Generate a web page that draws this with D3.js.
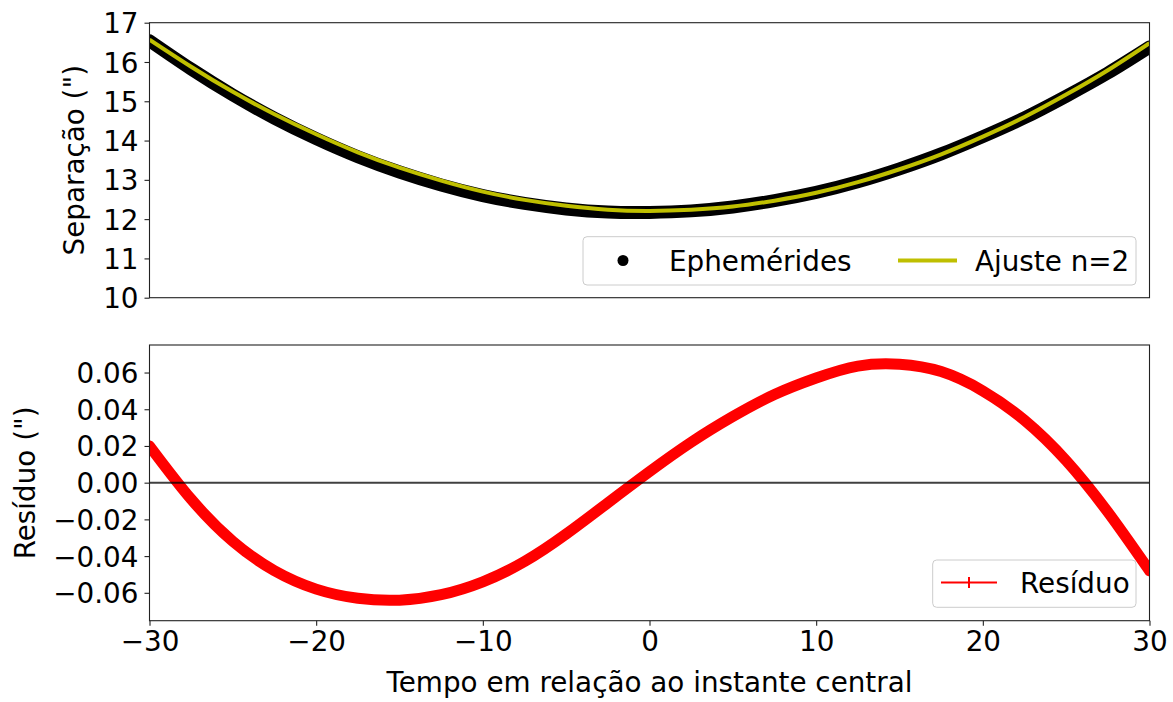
<!DOCTYPE html>
<html>
<head>
<meta charset="utf-8">
<script src="https://cdn.jsdelivr.net/npm/d3@7"></script>
<style>
  html, body { margin: 0; padding: 0; background: #fff; }
  svg { display: block; }
  text { font-family: "DejaVu Sans", sans-serif; fill: #000; }
</style>
</head>
<body>
<svg id="chart" width="1173" height="702"></svg>
<script>
// Time relative to the central instant (x for every series)
const tempo = [-30, -27.5, -25, -22.5, -20, -17.5, -15, -12.5, -10, -7.5, -5, -2.5, 0,
               2.5, 5, 7.5, 10, 12.5, 15, 17.5, 20, 22.5, 25, 27.5, 30];

// Ephemeris separation (")
const efemerides = [16.54, 15.82, 15.16, 14.57, 14.05, 13.59, 13.20, 12.87, 12.60, 12.40, 12.26, 12.18, 12.17,
                    12.21, 12.31, 12.47, 12.68, 12.95, 13.28, 13.66, 14.10, 14.58, 15.13, 15.72, 16.38];

// Degree-2 polynomial fit (")
const ajuste = [16.57, 15.88, 15.24, 14.67, 14.16, 13.70, 13.31, 12.98, 12.70, 12.49, 12.34, 12.24, 12.21,
                12.24, 12.32, 12.47, 12.67, 12.94, 13.27, 13.65, 14.10, 14.60, 15.17, 15.79, 16.48];

// Residual of the fit (")
const residuo = [0.020, -0.009, -0.032, -0.048, -0.058, -0.063, -0.064, -0.061, -0.054, -0.043, -0.028, -0.011, 0.006,
                 0.022, 0.036, 0.048, 0.057, 0.0635, 0.0645, 0.0605, 0.050, 0.034, 0.012, -0.016, -0.048];

// Tick labels
const xTicks = [-30, -20, -10, 0, 10, 20, 30];
const sepTicks = [10, 11, 12, 13, 14, 15, 16, 17];
const resTicks = [-0.06, -0.04, -0.02, 0.00, 0.02, 0.04, 0.06];

const FS = 27.8;
const svg = d3.select("#chart");

const left = 149.5, right = 1149.5;
const top1 = 22.7, bot1 = 297.7;
const top2 = 345, bot2 = 620.7;

const x = d3.scaleLinear().domain([-30, 30]).range([left, right]);
const ySep = d3.scaleLinear().domain([10, 17]).range([bot1, top1]);
const yRes = d3.scaleLinear().domain([-0.0752, 0.0750]).range([bot2, top2]);

const defs = svg.append("defs");
defs.append("clipPath").attr("id", "clipTop")
  .append("rect").attr("x", left).attr("y", top1).attr("width", right - left).attr("height", bot1 - top1);
defs.append("clipPath").attr("id", "clipBot")
  .append("rect").attr("x", left).attr("y", top2).attr("width", right - left).attr("height", bot2 - top2);

const pts = (ys) => tempo.map((t, i) => [t, ys[i]]);

// ---------- Top panel: separation ----------
const lineSep = d3.line().x(d => x(d[0])).y(d => ySep(d[1])).curve(d3.curveNatural);

const gTop = svg.append("g").attr("clip-path", "url(#clipTop)");
gTop.append("path")
  .attr("d", lineSep(pts(efemerides)))
  .attr("fill", "none").attr("stroke", "#000").attr("stroke-width", 13)
  .attr("stroke-linecap", "round");
gTop.append("path")
  .attr("d", lineSep(pts(ajuste)))
  .attr("fill", "none").attr("stroke", "#bfbf00").attr("stroke-width", 4);

// y axis (top)
const axTop = svg.append("g").attr("transform", `translate(${left},0)`)
  .call(d3.axisLeft(ySep).tickValues(sepTicks).tickFormat(d3.format("d")).tickSize(5).tickPadding(6));
axTop.select(".domain").remove();
axTop.selectAll(".tick line").attr("stroke", "#222").attr("stroke-width", 1.1);
axTop.selectAll(".tick text").attr("font-size", FS).attr("dy", "0.36em").attr("fill", "#000")
  .style("font-family", "'DejaVu Sans', sans-serif");

svg.append("rect").attr("x", left).attr("y", top1).attr("width", right - left).attr("height", bot1 - top1)
  .attr("fill", "none").attr("stroke", "#222").attr("stroke-width", 1.1);

svg.append("text")
  .attr("transform", `translate(84,${(top1 + bot1) / 2}) rotate(-90)`)
  .attr("text-anchor", "middle").attr("font-size", FS)
  .text("Separação (\")");

// Legend (top)
const lg1 = svg.append("g");
lg1.append("rect").attr("x", 583).attr("y", 236.7).attr("width", 553).attr("height", 48.3)
  .attr("rx", 4).attr("fill", "#fff").attr("fill-opacity", 0.8)
  .attr("stroke", "#cccccc").attr("stroke-width", 1);
lg1.append("circle").attr("cx", 623).attr("cy", 260.5).attr("r", 5.5).attr("fill", "#000");
lg1.append("text").attr("x", 669).attr("y", 270.5).attr("font-size", FS).text("Ephemérides");
lg1.append("line").attr("x1", 898).attr("x2", 957).attr("y1", 260.5).attr("y2", 260.5)
  .attr("stroke", "#bfbf00").attr("stroke-width", 4);
lg1.append("text").attr("x", 975).attr("y", 270.5).attr("font-size", FS).text("Ajuste n=2");

// ---------- Bottom panel: residual ----------
const lineRes = d3.line().x(d => x(d[0])).y(d => yRes(d[1])).curve(d3.curveNatural);

const gBot = svg.append("g").attr("clip-path", "url(#clipBot)");
gBot.append("path")
  .attr("d", lineRes(pts(residuo)))
  .attr("fill", "none").attr("stroke", "#ff0000").attr("stroke-width", 11)
  .attr("stroke-linecap", "round");

// zero reference line
gBot.append("line")
  .attr("x1", left).attr("x2", right).attr("y1", yRes(0)).attr("y2", yRes(0))
  .attr("stroke", "#000").attr("stroke-opacity", 0.75).attr("stroke-width", 2);

const axBotY = svg.append("g").attr("transform", `translate(${left},0)`)
  .call(d3.axisLeft(yRes).tickValues(resTicks).tickFormat(d3.format(".2f")).tickSize(5).tickPadding(6));
axBotY.select(".domain").remove();
axBotY.selectAll(".tick line").attr("stroke", "#222").attr("stroke-width", 1.1);
axBotY.selectAll(".tick text").attr("font-size", FS).attr("dy", "0.36em").attr("fill", "#000")
  .style("font-family", "'DejaVu Sans', sans-serif");

const axBotX = svg.append("g").attr("transform", `translate(0,${bot2})`)
  .call(d3.axisBottom(x).tickValues(xTicks).tickFormat(d3.format("d")).tickSize(5).tickPadding(6));
axBotX.select(".domain").remove();
axBotX.selectAll(".tick line").attr("stroke", "#222").attr("stroke-width", 1.1);
axBotX.selectAll(".tick text").attr("font-size", FS).attr("dy", "0.71em").attr("fill", "#000")
  .style("font-family", "'DejaVu Sans', sans-serif");

svg.append("rect").attr("x", left).attr("y", top2).attr("width", right - left).attr("height", bot2 - top2)
  .attr("fill", "none").attr("stroke", "#222").attr("stroke-width", 1.1);

svg.append("text")
  .attr("transform", `translate(35,${(top2 + bot2) / 2}) rotate(-90)`)
  .attr("text-anchor", "middle").attr("font-size", FS)
  .text("Resíduo (\")");

svg.append("text")
  .attr("x", (left + right) / 2).attr("y", 692)
  .attr("text-anchor", "middle").attr("font-size", FS)
  .text("Tempo em relação ao instante central");

// Legend (bottom)
const lg2 = svg.append("g");
lg2.append("rect").attr("x", 932.7).attr("y", 560).attr("width", 203.3).attr("height", 47.3)
  .attr("rx", 4).attr("fill", "#fff").attr("fill-opacity", 0.8)
  .attr("stroke", "#cccccc").attr("stroke-width", 1);
lg2.append("line").attr("x1", 941).attr("x2", 997).attr("y1", 582.5).attr("y2", 582.5)
  .attr("stroke", "#ff0000").attr("stroke-width", 2);
lg2.append("line").attr("x1", 969).attr("x2", 969).attr("y1", 577).attr("y2", 588)
  .attr("stroke", "#ff0000").attr("stroke-width", 2);
lg2.append("text").attr("x", 1020).attr("y", 592.5).attr("font-size", FS).text("Resíduo");
</script>
</body>
</html>
